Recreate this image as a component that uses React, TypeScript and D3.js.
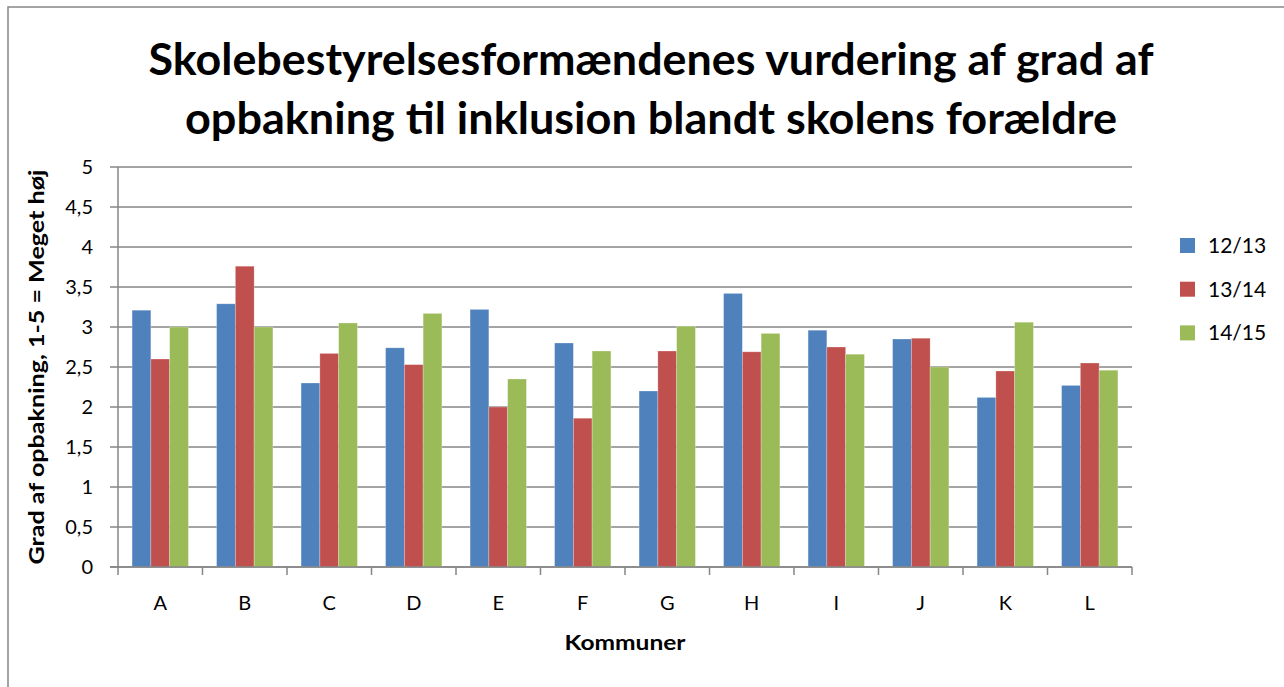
import React from "react";
import * as d3 from "d3";

const categories = ["A", "B", "C", "D", "E", "F", "G", "H", "I", "J", "K", "L"];
const seriesNames = ["12/13", "13/14", "14/15"];
const values1213 = [3.21, 3.29, 2.3, 2.74, 3.22, 2.8, 2.2, 3.42, 2.96, 2.85, 2.12, 2.27];
const values1314 = [2.6, 3.76, 2.67, 2.53, 2.0, 1.86, 2.7, 2.69, 2.75, 2.86, 2.45, 2.55];
const values1415 = [3.0, 3.0, 3.05, 3.17, 2.35, 2.7, 3.01, 2.92, 2.66, 2.5, 3.06, 2.46];
const yTicks = [0, 0.5, 1, 1.5, 2, 2.5, 3, 3.5, 4, 4.5, 5];
const colors = ["#4F81BD", "#C0504D", "#9BBB59"];

const titleLines = [
  "Skolebestyrelsesformændenes vurdering af grad af",
  "opbakning til inklusion blandt skolens forældre",
];
const yTitle = "Grad af opbakning, 1-5 = Meget høj";
const xTitle = "Kommuner";

export default function App() {
  const W = 1284;
  const H = 687;
  const left = 118;
  const right = 1132;
  const top = 167;
  const bottom = 567;
  const font = "Lato, 'Open Sans', sans-serif";
  const gray = "#868686";

  const series = [values1213, values1314, values1415];

  const x = d3.scaleBand<string>().domain(categories).range([left, right]).paddingInner(0).paddingOuter(0);
  const barW = x.bandwidth() / 4.5;
  const inner = d3
    .scaleBand<number>()
    .domain([0, 1, 2])
    .range([(x.bandwidth() - 3 * barW) / 2, (x.bandwidth() + 3 * barW) / 2]);
  const y = d3.scaleLinear().domain([0, 5]).range([bottom, top]);
  const fmt = (v: number) => String(v).replace(".", ",");

  const boundaries = d3.range(categories.length + 1).map((i) => left + i * x.step());

  return (
    <svg
      width={W}
      height={H}
      style={{ position: "absolute", left: 0, top: 0, background: "#fff" }}
    >
      <rect x={0} y={0} width={W} height={H} fill="#fff" />
      <rect x={8} y={7} width={W + 20} height={H + 20} fill="none" stroke={gray} strokeWidth={1.5} />

      {titleLines.map((t, i) => (
        <text
          key={i}
          x={651}
          y={75 + i * 59}
          textAnchor="middle"
          fontFamily={font}
          fontWeight="bold"
          fontSize={44}
          fill="#000"
          textLength={i === 0 ? 1005 : 932}
          lengthAdjust="spacingAndGlyphs"
        >
          {t}
        </text>
      ))}

      {/* gridlines */}
      {yTicks.map((t) => (
        <line
          key={t}
          x1={left - 8}
          x2={right}
          y1={y(t)}
          y2={y(t)}
          stroke={gray}
          strokeWidth={1.5}
        />
      ))}

      {/* bars */}
      {series.map((vals, si) =>
        vals.map((v, ci) => (
          <rect
            key={`${si}-${ci}`}
            x={(x(categories[ci]) as number) + (inner(si) as number)}
            y={y(v)}
            width={inner.bandwidth()}
            height={y(0) - y(v)}
            fill={colors[si]}
            stroke="rgba(255,255,255,0.35)"
            strokeWidth={0.75}
          />
        ))
      )}

      {/* axes */}
      <line x1={left} x2={left} y1={top} y2={bottom} stroke={gray} strokeWidth={1.5} />
      <line x1={left - 8} x2={right} y1={bottom} y2={bottom} stroke={gray} strokeWidth={1.5} />
      {boundaries.map((bx, i) => (
        <line key={i} x1={bx} x2={bx} y1={bottom} y2={bottom + 8} stroke={gray} strokeWidth={1.5} />
      ))}

      {/* y tick labels */}
      {yTicks.map((t) => (
        <text
          key={t}
          x={93}
          y={y(t)}
          dy="0.35em"
          textAnchor="end"
          fontFamily={font}
          fontSize={20}
          fill="#000"
        >
          {fmt(t)}
        </text>
      ))}

      {/* x labels */}
      {categories.map((c) => (
        <text
          key={c}
          x={(x(c) as number) + x.bandwidth() / 2}
          y={603}
          dy="0.35em"
          textAnchor="middle"
          fontFamily={font}
          fontSize={20}
          fill="#000"
        >
          {c}
        </text>
      ))}

      <text
        x={(left + right) / 2}
        y={643}
        dy="0.35em"
        textAnchor="middle"
        fontFamily={font}
        fontWeight="bold"
        fontSize={21}
        fill="#000"
        textLength={121}
        lengthAdjust="spacingAndGlyphs"
      >
        {xTitle}
      </text>

      <text
        transform={`translate(37, ${(top + bottom) / 2}) rotate(-90)`}
        dy="0.35em"
        textAnchor="middle"
        fontFamily={font}
        fontWeight="bold"
        fontSize={21}
        fill="#000"
        textLength={395}
        lengthAdjust="spacingAndGlyphs"
      >
        {yTitle}
      </text>

      {/* legend */}
      {seriesNames.map((n, i) => (
        <g key={n} transform={`translate(1180, ${245.5 + i * 43.7})`}>
          <rect x={0} y={-7.5} width={15} height={15} fill={colors[i]} />
          <text x={28} y={0} dy="0.35em" fontFamily={font} fontSize={21} fill="#000">
            {n}
          </text>
        </g>
      ))}
    </svg>
  );
}
